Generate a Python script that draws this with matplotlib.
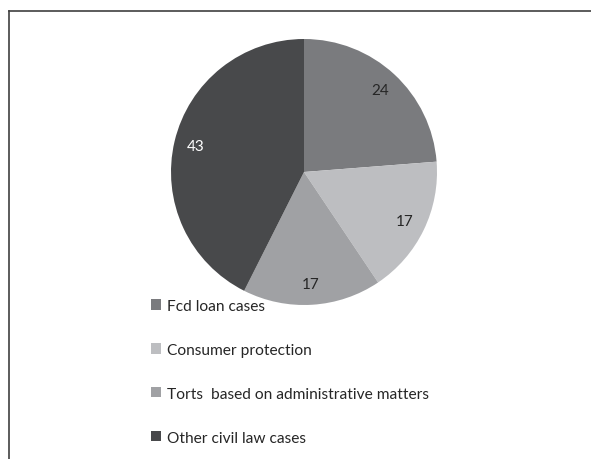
import matplotlib
matplotlib.use("Agg")
import matplotlib.pyplot as plt
from matplotlib.lines import Line2D
from matplotlib.patches import Patch

categories = ["Fcd loan cases", "Consumer protection",
              "Torts  based on administrative matters", "Other civil law cases"]
values = [24, 17, 17, 43]
colors = ["#7a7b7e", "#bdbec1", "#a0a1a4", "#48494b"]
label_colors = ["#262626", "#262626", "#262626", "#ffffff"]

plt.rcParams["font.family"] = ["Lato", "DejaVu Sans"]

W, H = 591, 460
fig = plt.figure(figsize=(W / 100, H / 100), dpi=100)

# pie centred at (304, 173) px with radius 133 px
cx, cy, r = 304, 173, 133
ax = fig.add_axes([(cx - r) / W, 1 - (cy + r) / H, 2 * r / W, 2 * r / H])
wedges, texts, autotexts = ax.pie(
    values, colors=colors, startangle=90, counterclock=False, radius=1,
    autopct=lambda p: f"{p * sum(values) / 100:.0f}", pctdistance=0.84,
    wedgeprops=dict(linewidth=0),
    textprops=dict(fontsize=11))
for t, c in zip(autotexts, label_colors):
    t.set_color(c)
ax.set_xlim(-1, 1)
ax.set_ylim(-1, 1)
ax.set_aspect("equal")

handles = [Patch(facecolor=c, edgecolor="none") for c in colors]
leg = fig.legend(handles, categories, loc="upper left",
                 bbox_to_anchor=(151 / W, 1 - 300 / H),
                 frameon=False, fontsize=11.2, labelspacing=1.92,
                 handlelength=0.65, handleheight=0.65, handletextpad=0.4,
                 borderpad=0, borderaxespad=0, labelcolor="#262626")

# outer frame: top and left edges
fig.add_artist(Line2D([9.5 / W, 1], [1 - 11.5 / H, 1 - 11.5 / H],
                      transform=fig.transFigure, color="#404040", lw=1.2))
fig.add_artist(Line2D([9.5 / W, 9.5 / W], [0, 1 - 11.5 / H],
                      transform=fig.transFigure, color="#404040", lw=1.2))

fig.savefig("out.png", dpi=100)
